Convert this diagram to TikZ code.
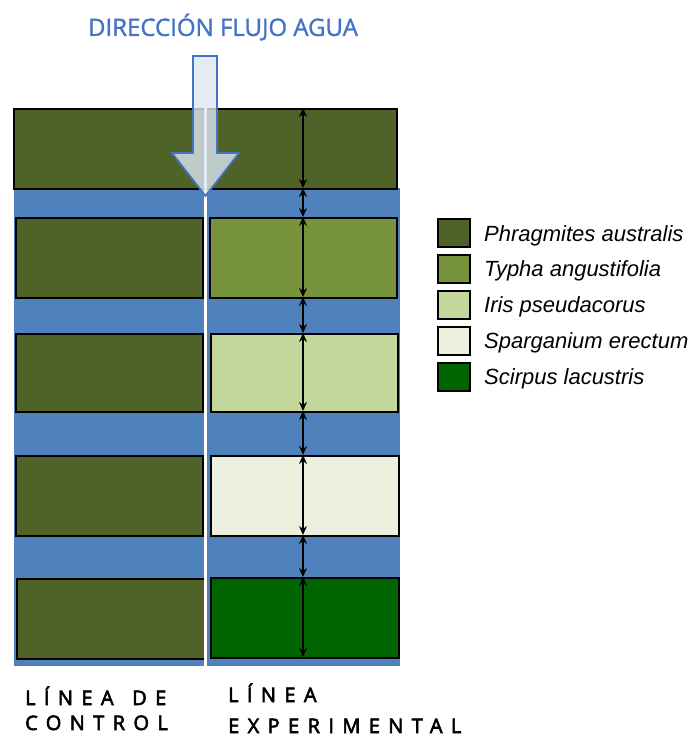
\documentclass[tikz,border=0pt]{standalone}
\usepackage{fontspec}
\setmainfont{Open Sans}
\newfontfamily\legfont{Liberation Sans}
\newfontfamily\lblfont{Open Sans}[LetterSpace=42,FakeBold=3]
\usetikzlibrary{arrows.meta}
\definecolor{phrag}{RGB}{79,98,40}
\definecolor{typha}{RGB}{119,147,60}
\definecolor{iris}{RGB}{195,214,155}
\definecolor{sparg}{RGB}{235,241,222}
\definecolor{scirp}{RGB}{0,100,0}
\definecolor{water}{RGB}{79,129,189}
\definecolor{titleblue}{RGB}{68,114,196}
\definecolor{arrowfill}{RGB}{220,230,242}
\tikzset{
  plot/.style={draw=black, line width=2pt, anchor=north west, inner sep=0pt},
  legbox/.style={draw=black, line width=2.4pt, minimum width=32pt, minimum height=28pt, inner sep=0pt},
  legtxt/.style={anchor=west, font=\legfont\itshape\fontsize{22}{24}\selectfont, inner sep=0pt},
  dim/.style={line width=1.3pt, {Stealth[length=9pt,width=8pt,inset=3pt]}-{Stealth[length=9pt,width=8pt,inset=3pt]}},
  lbl/.style={anchor=base west, inner sep=0pt, font=\lblfont\fontsize{20}{22}\selectfont},
}
\begin{document}
\begin{tikzpicture}[x=1pt,y=-1pt]
\useasboundingbox (0,0) rectangle (691,740);
% water background
\fill[water] (14,188) rectangle (400,666);
% rows
\node[plot, fill=phrag, minimum width=383pt, minimum height=80pt] (r1) at (13,108) {};
\node[plot, fill=phrag, minimum width=187pt, minimum height=80pt] (c2) at (15,217) {};
\node[plot, fill=typha, minimum width=187pt, minimum height=80pt] (e2) at (209,217) {};
\node[plot, fill=phrag, minimum width=187pt, minimum height=78pt] (c3) at (15,333) {};
\node[plot, fill=iris, minimum width=187pt, minimum height=78pt] (e3) at (210,333) {};
\node[plot, fill=phrag, minimum width=187pt, minimum height=80pt] (c4) at (15,455) {};
\node[plot, fill=sparg, minimum width=188pt, minimum height=80pt] (e4) at (210,455) {};
\node[plot, fill=phrag, minimum width=188pt, minimum height=80pt] (c5) at (16,578) {};
\node[plot, fill=scirp, minimum width=188pt, minimum height=80pt] (e5) at (210,577) {};
% white separator
\draw[white, line width=3pt] (205.5,108) -- (205.5,666);
% dimension arrows
\foreach \n/\y in {d0/108,d1/188,d2/217,d3/297,d4/333,d5/411,d6/455,d7/535,d8/577,d9/657}
  \coordinate (\n) at (303,\y);
\foreach \a/\b in {d0/d1,d1/d2,d2/d3,d3/d4,d4/d5,d5/d6,d6/d7,d7/d8,d8/d9}
  \draw[dim] (\a) -- (\b);
% flow arrow
\node[font=\addfontfeature{FakeBold=1.3}\fontsize{24}{28}\selectfont, text=titleblue, inner sep=0pt] (title) at (223,27) {DIRECCIÓN FLUJO AGUA};
\draw[titleblue, line width=1.8pt, fill=arrowfill, fill opacity=0.8, line join=miter]
  (193,56) -- (217,56) -- (217,153) -- (239,153) -- (205.5,196) -- (172,153) -- (193,153) -- cycle;
% legend
\node[legbox, fill=phrag] (l1) at (454,233) {};
\node[legbox, fill=typha] (l2) at (454,269) {};
\node[legbox, fill=iris] (l3) at (454,305) {};
\node[legbox, fill=sparg] (l4) at (454,341) {};
\node[legbox, fill=scirp] (l5) at (454,377) {};
\node[legtxt] (t1) at (484,236) {Phragmites australis};
\node[legtxt] (t2) at (484,271) {Typha angustifolia};
\node[legtxt] (t3) at (484,307) {Iris pseudacorus};
\node[legtxt] (t4) at (484,343) {Sparganium erectum};
\node[legtxt] (t5) at (484,379) {Scirpus lacustris};
% bottom labels
\node[lbl] (lc1) at (25,705) {LÍNEA\hspace{5pt} DE};
\node[lbl] (lc2) at (25,730) {CONTROL};
\node[lbl] (le1) at (228,702) {LÍNEA};
\node[lbl] (le2) at (228,733) {EXPERIMENTAL};
\end{tikzpicture}
\end{document}
